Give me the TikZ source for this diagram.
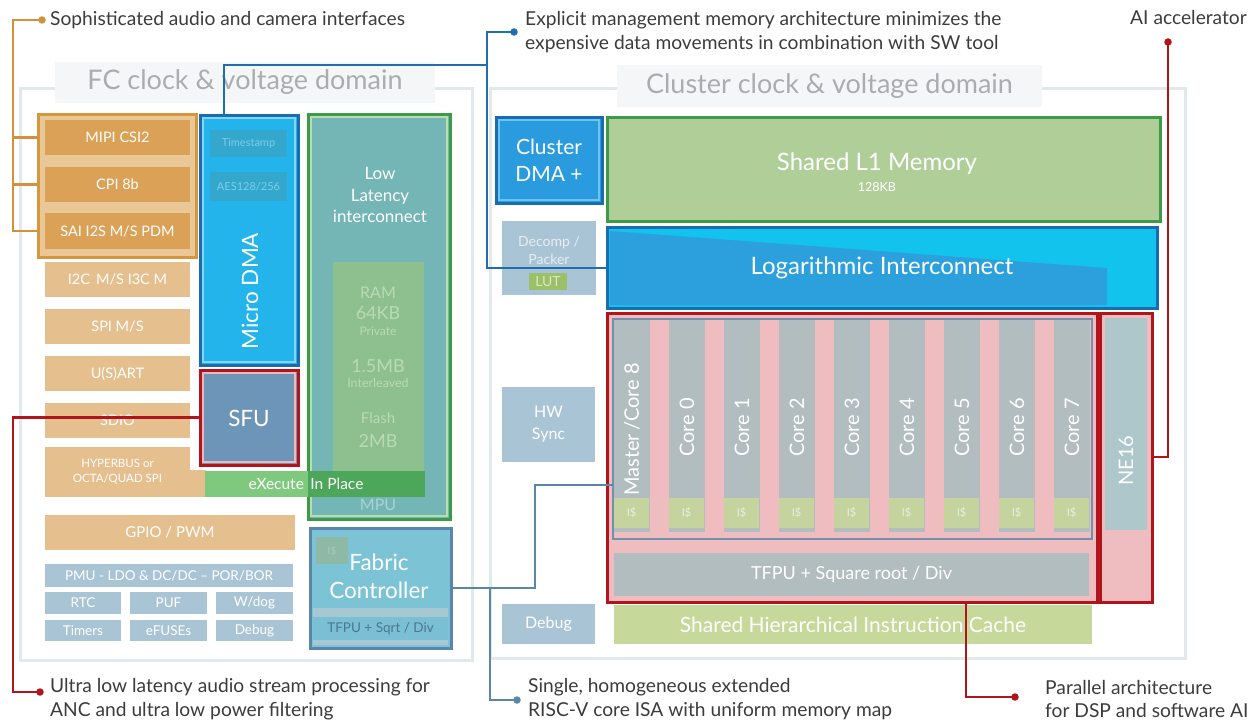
\documentclass[tikz,border=0pt]{standalone}
\usepackage{fontspec}
\setmainfont{Lato}
\usetikzlibrary{calc}
\definecolor{orangeD}{HTML}{D6963E}
\definecolor{orangeBox}{HTML}{DBA257}
\definecolor{orangeBg}{HTML}{EAC796}
\definecolor{orangeL}{HTML}{E6BF8E}
\definecolor{gb}{HTML}{A9C5D5}
\definecolor{dmaBlue}{HTML}{23B4EC}
\definecolor{blueD}{HTML}{1A6BB0}
\definecolor{blueLi}{HTML}{85D6F6}
\definecolor{tsFill}{HTML}{34A8CC}
\definecolor{tsText}{HTML}{7CCDE5}
\definecolor{sfuFill}{HTML}{6D95B8}
\definecolor{redD}{HTML}{B2141C}
\definecolor{pinkLi}{HTML}{F0B8BC}
\definecolor{greenD}{HTML}{3D9A47}
\definecolor{greenLi}{HTML}{B8DDB5}
\definecolor{llFill}{HTML}{73B6B5}
\definecolor{ramFill}{HTML}{8EC08F}
\definecolor{ramText}{HTML}{B9DAB5}
\definecolor{xipL}{HTML}{7FC97E}
\definecolor{xipD}{HTML}{4CA75A}
\definecolor{mpuText}{HTML}{A8D4CE}
\definecolor{fabFill}{HTML}{7CC3D6}
\definecolor{steel}{HTML}{5B86AC}
\definecolor{fabBand}{HTML}{A5C8D2}
\definecolor{fabTf}{HTML}{7ABFD3}
\definecolor{fabTxt}{HTML}{4E7690}
\definecolor{fabI}{HTML}{8DB9A6}
\definecolor{fabIt}{HTML}{A9CBB9}
\definecolor{cdmaFill}{HTML}{2A9BDF}
\definecolor{cdmaLi}{HTML}{6CC6F2}
\definecolor{decTxt}{HTML}{E6EDF1}
\definecolor{lutFill}{HTML}{9CBF6A}
\definecolor{lutTxt}{HTML}{D8E8BE}
\definecolor{l1Fill}{HTML}{B0CF98}
\definecolor{logCyan}{HTML}{12C3EE}
\definecolor{logDark}{HTML}{2BA0DD}
\definecolor{pink}{HTML}{EFBDBF}
\definecolor{coreSteel}{HTML}{7090AE}
\definecolor{coreGray}{HTML}{B2BDC0}
\definecolor{icGreen}{HTML}{C5D49F}
\definecolor{icTxt}{HTML}{E8EEDC}
\definecolor{neGray}{HTML}{ADC7CB}
\definecolor{cacheFill}{HTML}{C6D89A}
\definecolor{domLine}{HTML}{E3E8EA}
\definecolor{titleBg}{HTML}{F5F6F7}
\definecolor{titleTxt}{HTML}{A9ADB1}
\definecolor{calloutTxt}{HTML}{3C3C3C}
\definecolor{orangeC}{HTML}{D2913A}
\definecolor{blueC}{HTML}{1F6EB2}
\definecolor{steelC}{HTML}{5A86A8}
\definecolor{redC}{HTML}{B2141C}
\newcommand\bx[7]{\node[inner sep=0pt, outer sep=0pt, minimum width={(#4-#2)*1pt}, minimum height={(#5-#3)*1pt}, #6] (#1) at ({(#2+#4)/2},{(#3+#5)/2}) {#7};}
\newcommand\inln[3]{\draw[#2, line width=1.5pt] ([shift={(#3pt,-#3pt)}]#1.north west) rectangle ([shift={(-#3pt,#3pt)}]#1.south east);}
\newcommand\fs[2]{\fontsize{#1}{#2}\selectfont}
\tikzset{
  wt/.style={text=white, align=center},
  callout/.style={text=calloutTxt, anchor=west, align=left, inner sep=0pt, font=\fs{19.2}{23.5}},
  conn/.style={line width=2.6pt, line join=miter},
  cdot/.style={circle, inner sep=0pt, minimum size=7.5pt, fill=#1},
  rottext/.style={rotate=90, anchor=west, text=white, inner sep=0pt, font=\fs{20}{24}},
}
\begin{document}
\begin{tikzpicture}[x=1pt,y=-1pt]
\useasboundingbox (0,0) rectangle (1257,725);
\fill[white] (0,0) rectangle (1257,725);
% ---------- FC domain ----------
\draw[domLine, line width=3pt] (20,88) rectangle (472,660);
\bx{fctitle}{55}{62}{435}{103}{fill=titleBg, text=titleTxt, font=\fs{27}{30}}{FC clock \& voltage domain}
\bx{camgrp}{38}{114}{196}{257}{fill=orangeBg, draw=orangeD, line width=3pt}{}
\bx{mipi}{45}{120}{190}{155}{fill=orangeBox, wt, font=\fs{14.5}{17}}{MIPI CSI2}
\bx{cpi}{45}{167}{190}{202}{fill=orangeBox, wt, font=\fs{14.5}{17}}{CPI 8b}
\bx{sai}{45}{213}{190}{249}{fill=orangeBox, wt, font=\fs{14.5}{17}}{SAI I2S M/S PDM}
\bx{i2c}{45}{262}{190}{297}{fill=orangeL, wt, font=\fs{14.5}{17}}{I2C\, M/S I3C M}
\bx{spi}{45}{309}{190}{344}{fill=orangeL, wt, font=\fs{14.5}{17}}{SPI M/S}
\bx{uart}{45}{356}{190}{391}{fill=orangeL, wt, font=\fs{14.5}{17}}{U(S)ART}
\bx{sdio}{45}{403}{190}{438}{fill=orangeL, wt, font=\fs{14.5}{17}}{SDIO}
\bx{hypext}{185}{470}{206}{497}{fill=orangeL}{}
\bx{hyper}{45}{447}{190}{497}{fill=orangeL, wt, font=\fs{11.5}{15}}{HYPERBUS or\\OCTA/QUAD SPI}
\bx{gpio}{45}{515}{295}{550}{fill=orangeL, wt, font=\fs{15}{18}}{GPIO / PWM}
\bx{pmu}{45}{564}{293}{587}{fill=gb, wt, font=\fs{13.5}{16}}{PMU - LDO \& DC/DC – POR/BOR}
\bx{rtc}{45}{592}{121}{614}{fill=gb, wt, font=\fs{13.5}{16}}{RTC}
\bx{puf}{130}{592}{207}{614}{fill=gb, wt, font=\fs{13.5}{16}}{PUF}
\bx{wdog}{216}{592}{293}{614}{fill=gb, wt, font=\fs{13.5}{16}}{W/dog}
\bx{timers}{45}{620}{121}{641}{fill=gb, wt, font=\fs{13.5}{16}}{Timers}
\bx{efuse}{130}{620}{207}{641}{fill=gb, wt, font=\fs{13.5}{16}}{eFUSEs}
\bx{fcdbg}{216}{620}{293}{641}{fill=gb, wt, font=\fs{13.5}{16}}{Debug}
% Micro DMA
\bx{dma}{200}{115}{298}{365}{fill=dmaBlue, draw=blueD, line width=3pt}{}
\inln{dma}{blueLi}{3}
\bx{ts}{210}{130}{287}{157}{fill=tsFill, text=tsText, font=\fs{11}{13}}{Timestamp}
\bx{aes}{210}{172}{287}{201}{fill=tsFill, text=tsText, font=\fs{11}{13}}{AES128/256}
\node[rotate=90, text=white, inner sep=0pt, font=\fs{22.5}{26}] (dmatxt) at (250,291) {Micro DMA};
% SFU
\bx{sfu}{200}{370}{298}{465}{fill=sfuFill, draw=redD, line width=3pt}{}
\inln{sfu}{pinkLi}{3}
\node[text=white, inner sep=0pt, font=\fs{22.5}{26}] (sfutxt) at (249,418) {SFU};
% Low latency interconnect
\bx{ll}{308}{114}{450}{519}{fill=llFill, draw=greenD, line width=3pt}{}
\inln{ll}{greenLi}{3}
\node[wt, inner sep=0pt, font=\fs{17}{21.5}] (lltxt) at (380,195) {Low\\Latency\\interconnect};
\bx{ram}{333}{262}{424}{471}{fill=ramFill}{}
\node[text=ramText, font=\fs{16}{18}] (ramA) at (378,293) {RAM};
\node[text=ramText, font=\fs{18}{20}] (ramB) at (378,313) {64KB};
\node[text=ramText, font=\fs{12}{14}] (ramC) at (378,331) {Private};
\node[text=ramText, font=\fs{18}{20}] (ramD) at (378,366) {1.5MB};
\node[text=ramText, font=\fs{12.5}{14}] (ramE) at (378,383) {Interleaved};
\node[text=ramText, font=\fs{15}{18}] (ramF) at (378,418) {Flash};
\node[text=ramText, font=\fs{18}{20}] (ramG) at (378,441) {2MB};
\bx{xipl}{205}{471}{308}{497}{fill=xipL}{}
\bx{xipd}{308}{471}{425}{497}{fill=xipD}{}
\node[text=white, font=\fs{15.5}{18}] (xiptxt) at (306,484) {eXecute\, In Place};
\node[text=mpuText, font=\fs{16}{18}] (mputxt) at (378,505) {MPU};
% Fabric controller
\bx{fabric}{310}{528}{451}{648}{fill=fabFill, draw=steel, line width=3pt}{}
\bx{fband}{313}{608}{448}{645}{fill=fabBand}{}
\bx{ftfpu}{313}{617}{448}{640}{fill=fabTf, text=fabTxt, font=\fs{13.5}{16}}{TFPU + Sqrt / Div}
\bx{fic}{316}{537}{348}{564}{fill=fabI, text=fabIt, font=\fs{10}{12}}{I\$}
\node[wt, inner sep=0pt, font=\fs{22.5}{28}] (fabtxt) at (379,576) {Fabric\\Controller};
% ---------- Cluster domain ----------
\draw[domLine, line width=3pt] (490,88) rectangle (1185,658);
\bx{cltitle}{617}{65}{1042}{107}{fill=titleBg, text=titleTxt, font=\fs{27}{30}}{Cluster clock \& voltage domain}
\bx{cdma}{496}{117}{602}{203}{fill=cdmaFill, draw=blueD, line width=3pt, wt, font=\fs{21}{27}}{Cluster\\DMA +}
\inln{cdma}{cdmaLi}{3}
\bx{decomp}{502}{221}{596}{295}{fill=gb}{}
\node[text=decTxt, align=center, font=\fs{14}{18}] (dectxt) at (549,250) {Decomp /\\Packer};
\bx{lut}{529}{273}{567}{290}{fill=lutFill, text=lutTxt, font=\fs{14}{16}}{LUT}
\bx{l1}{607}{117}{1160}{221}{fill=l1Fill, draw=greenD, line width=3pt}{}
\node[text=white, font=\fs{24}{28}] (l1txt) at (877,164) {Shared L1 Memory};
\node[text=white, font=\fs{12.5}{14}] (l1kb) at (877,187) {128KB};
\fill[logCyan] (607,227) rectangle (1157,308);
\fill[logDark] (610,231) -- (1107,268) -- (1107,305) -- (610,305) -- cycle;
\bx{logi}{607}{227}{1157}{308}{draw=blueD, line width=3pt, text=white, font=\fs{24}{28}}{Logarithmic Interconnect}
\bx{hw}{502}{387}{595}{462}{fill=gb, wt, font=\fs{16}{22}}{HW\\Sync}
\bx{cldbg}{502}{604}{595}{644}{fill=gb, wt, font=\fs{16}{18}}{Debug}
\bx{cache}{614}{605}{1092}{644}{fill=cacheFill, text=white, font=\fs{21}{24}}{Shared Hierarchical Instruction Cache}
% cores
\bx{corebox}{607}{313}{1097}{602}{fill=pink, draw=redD, line width=3pt}{}
\bx{coreinner}{613}{319}{1092}{539}{draw=coreSteel, line width=2.5pt}{}
\foreach \i in {0,...,8}{
  \pgfmathsetmacro\cx{614+55*\i}
  \bx{col\i}{\cx}{320}{\cx+36}{532}{fill=coreGray}{}
  \bx{ic\i}{\cx+2}{498}{\cx+33}{528}{fill=icGreen, text=icTxt, font=\fs{11}{13}}{I\$}
}
\node[rottext] (lab0) at (632,496) {Master\,/Core 8};
\foreach \i in {1,...,8}{
  \pgfmathtruncatemacro\k{\i-1}
  \node[rottext] (lab\i) at ({632+55*\i},457) {Core \k};
}
\bx{tfpu}{614}{553}{1089}{596}{fill=coreGray, text=white, font=\fs{18}{20}}{TFPU + Square root / Div}
\bx{ne}{1100}{313}{1152}{602}{fill=pink, draw=redD, line width=3pt}{}
\bx{negray}{1105}{318}{1147}{530}{fill=neGray}{}
\node[rottext] (netxt) at (1126,486) {NE16};
% ---------- callouts ----------
\node[cdot=orangeC] (sdot) at (42,20) {};
\node[callout] (stxt) at (50,20) {Sophisticated audio and camera interfaces};
\node[cdot=blueC] (edot) at (514,32) {};
\node[callout] (etxt) at (525,32) {Explicit management memory architecture minimizes the\\expensive data movements in combination with SW tool};
\node[cdot=redC] (adot) at (1168,42) {};
\node[callout, anchor=east] (atxt) at (1247,18) {AI accelerator};
\node[cdot=redC] (udot) at (40,692) {};
\node[callout] (utxt) at (50,699) {Ultra low latency audio stream processing for\\ANC and ultra low power filtering};
\node[cdot=steelC] (hdot) at (517,700) {};
\node[callout] (htxt) at (528,699) {Single, homogeneous extended\\RISC-V core ISA with uniform memory map};
\node[cdot=redC] (pdot) at (1015,697) {};
\node[callout] (ptxt) at (1045,699) {Parallel architecture\\for DSP and software AI};
% connectors
\coordinate (oc1) at (13,20);
\coordinate (oc2) at (13,231);
\draw[conn, orangeC] (sdot.center) -- (oc1) -- (oc2) -- (oc2 -| camgrp.west);
\draw[conn, orangeC] (oc1 |- mipi.west) -- (mipi.west -| camgrp.west);
\draw[conn, orangeC] (oc1 |- cpi.west) -- (cpi.west -| camgrp.west);
\coordinate (dmatop) at (224,115);
\coordinate (bj) at (487,65);
\draw[conn, blueC] (dmatop) |- (bj);
\coordinate (bt) at (487,32);
\coordinate (bb) at (487,268);
\draw[conn, blueC] (edot.center) -- (bt) -- (bb) -- (bb -| logi.west);
\coordinate (sj) at (535,485);
\draw[conn, steelC] (fabric.east) -| (sj) -- (sj -| coreinner.west);
\coordinate (sk) at (490,588);
\draw[conn, steelC] (sk) |- (hdot.center);
\coordinate (rk) at (13,417.5);
\draw[conn, redC] (sfu.west) -- (rk) |- (udot.center);
\coordinate (pk) at (966,602);
\draw[conn, redC] (pk) |- (pdot.center);
\coordinate (ak) at (1168,457);
\draw[conn, redC] (ak -| ne.east) -- (ak) -- (adot.center);
\end{tikzpicture}
\end{document}
